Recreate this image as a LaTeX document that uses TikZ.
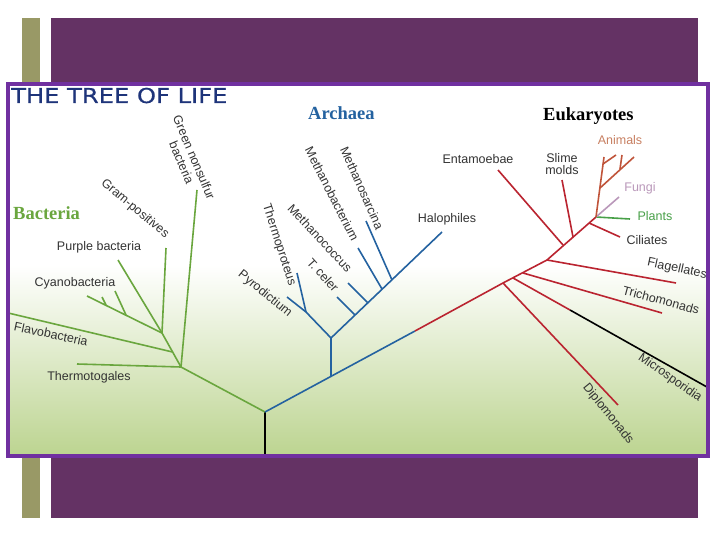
\documentclass[tikz,border=0pt]{standalone}
\usepackage{fontspec}
\setmainfont{Liberation Serif}
\setsansfont{Liberation Sans}
\newfontfamily\headfont[FakeBold=0.6]{DejaVu Sans}
\definecolor{olivebar}{RGB}{153,153,102}
\definecolor{slidepurple}{RGB}{100,50,100}
\definecolor{framepurple}{RGB}{112,48,160}
\definecolor{bggreen}{RGB}{188,212,144}
\definecolor{bactgreen}{RGB}{106,166,62}
\definecolor{archblue}{RGB}{36,98,160}
\definecolor{eukred}{RGB}{186,36,48}
\definecolor{animalred}{RGB}{192,84,58}
\definecolor{animaltext}{RGB}{200,128,98}
\definecolor{fungipink}{RGB}{186,152,186}
\definecolor{plantgreen}{RGB}{72,160,72}
\definecolor{titleblue}{RGB}{30,52,122}

\begin{document}
\begin{tikzpicture}[x=1pt,y=-1pt,
    branch/.style={line width=1.6pt,line join=round},
    lab/.style={font=\sffamily\fontsize{12.5}{13.5}\selectfont,inner sep=0pt,text=black!80,align=center},
    grouplab/.style={font=\bfseries\fontsize{18.5}{20}\selectfont,inner sep=0pt,anchor=base west}]
\useasboundingbox (0,0) rectangle (720,540);
\fill[white] (0,0) rectangle (720,540);
\fill[olivebar] (22,18) rectangle (40,518);
\fill[slidepurple] (51,18) rectangle (698,518);
\fill[white] (8,84) rectangle (708,456);
\shade[top color=white,bottom color=bggreen] (8,265) rectangle (708,456);

\begin{scope}
\clip (8,84) rectangle (708,456);
% titles
\node[anchor=base west,inner sep=0pt,text=titleblue] (title) at (11,103)
  {\scalebox{1.18}[1]{\headfont\fontsize{20.5}{22}\selectfont THE TREE OF LIFE}};
\node[grouplab,text=bactgreen] (bacteria) at (13,220) {Bacteria};
\node[grouplab,text=archblue] (archaea) at (308,120) {Archaea};
\node[grouplab,text=black] (eukaryotes) at (543,121) {Eukaryotes};

% bacteria
\coordinate (root) at (265,412);
\coordinate (base) at (265,462);
\coordinate (bA) at (181,367);
\coordinate (bB) at (162,333);
\coordinate (bF) at (172.5,352);
\coordinate (c1) at (126,315);
\coordinate (c2) at (106,305);
\coordinate (thermoEnd) at (77,364);
\coordinate (flavoEnd) at (4,312);
\coordinate (nonsulfEnd) at (197,190);
\coordinate (gramEnd) at (166,248);
\coordinate (purpleEnd) at (118,260);
\coordinate (cyanoEnd) at (87,296);
\draw[branch] (base) -- (root);
\draw[branch,bactgreen] (root) -- (bA) -- (bB) -- (purpleEnd);
\draw[branch,bactgreen] (bA) -- (thermoEnd);
\draw[branch,bactgreen] (bA) -- (nonsulfEnd);
\draw[branch,bactgreen] (bF) -- (flavoEnd);
\draw[branch,bactgreen] (bB) -- (gramEnd);
\draw[branch,bactgreen] (bB) -- (cyanoEnd);
\draw[branch,bactgreen] (c1) -- (115,291);
\draw[branch,bactgreen] (c2) -- (102,297);
\node[lab] (thermotogales) at (89,377) {Thermotogales};
\node[lab,rotate=-12] (flavobacteria) at (51,334) {Flavobacteria};
\node[lab] (cyanobacteria) at (75,283) {Cyanobacteria};
\node[lab] (purplebact) at (99,247) {Purple bacteria};
\node[lab,rotate=-40] (grampos) at (135,209) {Gram-positives};
\node[lab,rotate=-67] (nonsulfur) at (188,160) {Green nonsulfur\\bacteria};

% archaea
\coordinate (aA) at (331,376);
\coordinate (aC) at (331,338);
\coordinate (aP) at (306,312);
\coordinate (eR) at (415,331);
\coordinate (haloEnd) at (442,232);
\coordinate (tcBase) at (355,315);
\coordinate (mcBase) at (368,303);
\coordinate (mbBase) at (382,289);
\coordinate (msBase) at (392,280);
\draw[branch,archblue] (root) -- (eR);
\draw[branch,archblue] (aA) -- (aC) -- (haloEnd);
\draw[branch,archblue] (aC) -- (aP) -- (287,297);
\draw[branch,archblue] (aP) -- (297,273);
\draw[branch,archblue] (tcBase) -- (337,297);
\draw[branch,archblue] (mcBase) -- (348,283);
\draw[branch,archblue] (mbBase) -- (358,248);
\draw[branch,archblue] (msBase) -- (366,221);
\node[lab,rotate=-39] (pyrodictium) at (265,294) {Pyrodictium};
\node[lab,rotate=-72] (thermoproteus) at (279,245) {Thermoproteus};
\node[lab,rotate=-48] (tceler) at (323,275) {T. celer};
\node[lab,rotate=-47] (methanococcus) at (320,238) {Methanococcus};
\node[lab,rotate=-63] (methanobact) at (332,194) {Methanobacterium};
\node[lab,rotate=-66] (methanosarc) at (362,188) {Methanosarcina};
\node[lab] (halophiles) at (447,219) {Halophiles};

% eukaryotes
\coordinate (e1) at (503,283);
\coordinate (e2) at (513,278);
\coordinate (e3) at (523,273);
\coordinate (e4) at (547,260);
\coordinate (e5) at (563,245);
\coordinate (e6) at (573,237);
\coordinate (e7) at (589,223);
\coordinate (e8) at (596,217);
\coordinate (mM) at (570,310);
\coordinate (animTop) at (604,157);
\draw[branch,eukred] (eR) -- (e1) -- (e4) -- (e8);
\draw[branch,eukred] (e1) -- (618,405);
\draw[branch,eukred] (e2) -- (mM);
\draw[branch] (mM) -- (714,391);
\draw[branch,eukred] (e3) -- (662,313);
\draw[branch,eukred] (e4) -- (676,283);
\draw[branch,eukred] (e5) -- (498,170);
\draw[branch,eukred] (e6) -- (562,180);
\draw[branch,eukred] (e7) -- (620,237);
\draw[branch,plantgreen] (e8) -- (630,219);
\draw[branch,fungipink] (e8) -- (619,197);
\draw[branch,animalred] (e8) -- (animTop);
\draw[branch,animalred] (600,188) -- (634,157);
\draw[branch,animalred] (620,169) -- (622,155);
\draw[branch,animalred] (603,164) -- (616,155);
\node[lab] (entamoebae) at (478,159) {Entamoebae};
\node[lab] (slimemolds) at (562,164) {Slime\\[-2pt]molds};
\node[lab,text=animaltext] (animals) at (620,140) {Animals};
\node[lab,text=fungipink] (fungi) at (640,188) {Fungi};
\node[lab,text=plantgreen] (plants) at (655,216) {Plants};
\node[lab] (ciliates) at (647,240) {Ciliates};
\node[lab,rotate=-12] (flagellates) at (677,269) {Flagellates};
\node[lab,rotate=-15] (trichomonads) at (661,300) {Trichomonads};
\node[lab,rotate=-35] (microsporidia) at (670,378) {Microsporidia};
\node[lab,rotate=-51] (diplomonads) at (608,414) {Diplomonads};
\end{scope}
\draw[framepurple,line width=4pt] (8,84) rectangle (708,456);
\end{tikzpicture}
\end{document}
